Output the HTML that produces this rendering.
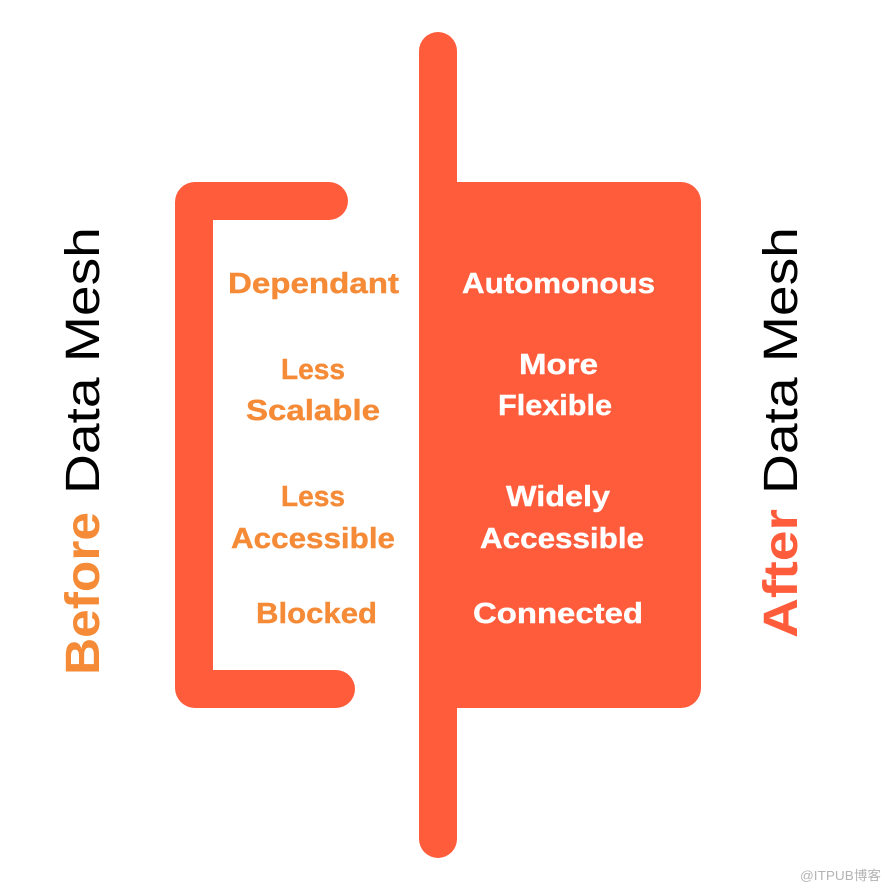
<!DOCTYPE html>
<html>
<head>
<meta charset="utf-8">
<style>
html,body{margin:0;padding:0;background:#fff;width:890px;height:890px;overflow:hidden}
svg{display:block}
text{font-family:"Liberation Sans",sans-serif;font-weight:700;font-size:29px}
.o{fill:#f58a37;stroke:#f58a37;stroke-width:.4}
.w{fill:#fff;stroke:#fff;stroke-width:.4}
</style>
</head>
<body>
<svg width="890" height="890" viewBox="0 0 890 890" xmlns="http://www.w3.org/2000/svg">
<rect width="890" height="890" fill="#fff"/>
<path fill="#ff5c3c" d="M438 32a19 19 0 0 1 19 19V182H681a20 20 0 0 1 20 20V688a20 20 0 0 1-20 20H457V839a19 19 0 0 1-38 0V51a19 19 0 0 1 19-19z"/>
<path fill="#ff5c3c" d="M195 182H329a19 19 0 0 1 0 38H213V670H336a19 19 0 0 1 0 38H195a20 20 0 0 1-20-20V202a20 20 0 0 1 20-20z"/>

<text class="o" x="228" y="293" textLength="171" lengthAdjust="spacingAndGlyphs">Dependant</text>
<text class="o" x="281" y="379" textLength="64" lengthAdjust="spacingAndGlyphs">Less</text>
<text class="o" x="246" y="420" textLength="134" lengthAdjust="spacingAndGlyphs">Scalable</text>
<text class="o" x="281" y="506" textLength="64" lengthAdjust="spacingAndGlyphs">Less</text>
<text class="o" x="231" y="548" textLength="164" lengthAdjust="spacingAndGlyphs">Accessible</text>
<text class="o" x="256" y="623" textLength="121" lengthAdjust="spacingAndGlyphs">Blocked</text>

<text class="w" x="462" y="293" textLength="193" lengthAdjust="spacingAndGlyphs">Automonous</text>
<text class="w" x="519" y="374" textLength="79" lengthAdjust="spacingAndGlyphs">More</text>
<text class="w" x="498" y="415" textLength="114" lengthAdjust="spacingAndGlyphs">Flexible</text>
<text class="w" x="506" y="506" textLength="104" lengthAdjust="spacingAndGlyphs">Widely</text>
<text class="w" x="480" y="548" textLength="164" lengthAdjust="spacingAndGlyphs">Accessible</text>
<text class="w" x="473" y="623" textLength="170" lengthAdjust="spacingAndGlyphs">Connected</text>

<g transform="translate(99 675) rotate(-90)">
<text transform="scale(1.072 1)" x="0" y="0" style="font-size:48px;fill:#f58a37">Before</text>
<text transform="translate(181 0) scale(1.15 1)" x="0" y="0" style="font-size:48px;font-weight:400;fill:#000">Data Mesh</text>
</g>
<g transform="translate(797 638) rotate(-90)">
<text transform="scale(1.152 1)" x="0" y="0" style="font-size:48px;fill:#ff5c3c">After</text>
<text transform="translate(144 0) scale(1.15 1)" x="0" y="0" style="font-size:48px;font-weight:400;fill:#000">Data Mesh</text>
</g>

<text x="800" y="880" style="font-family:'Liberation Sans','Noto Sans CJK SC',sans-serif;font-size:13px;font-weight:400;fill:#b4b4b4" textLength="81" lengthAdjust="spacingAndGlyphs">@ITPUB博客</text>
</svg>
</body>
</html>
